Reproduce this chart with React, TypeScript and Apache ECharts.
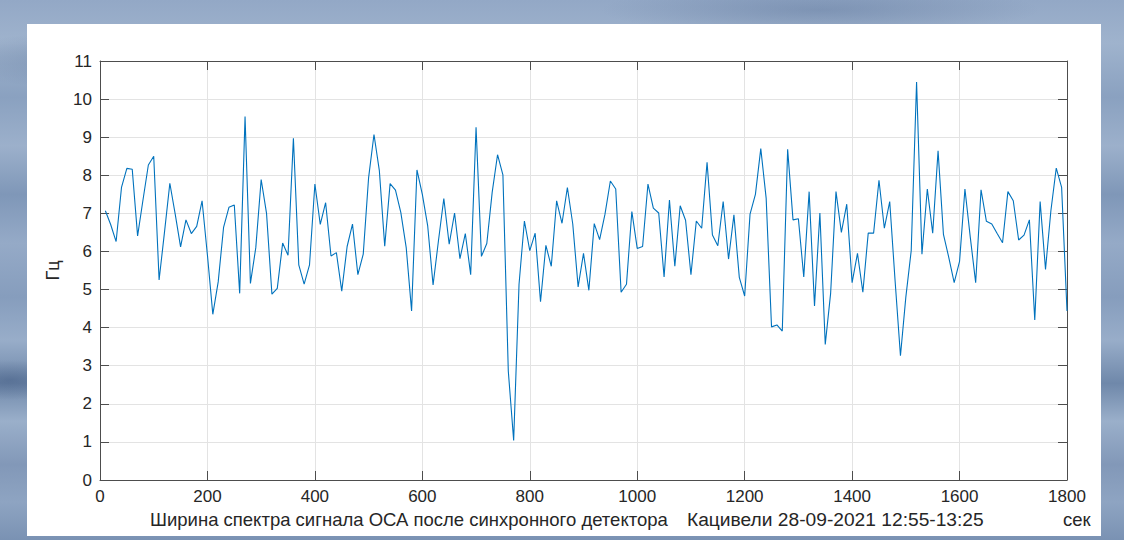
import React, { useEffect, useRef } from "react";
import * as echarts from "echarts";

const sampleStep = 10; // seconds between samples, first sample at 10 s
const widthHz: number[] = [
  7.07, 6.70, 6.26, 7.68, 8.18, 8.16, 6.41, 7.35, 8.27, 8.50,
  5.25, 6.50, 7.79, 6.98, 6.12, 6.83, 6.47, 6.66, 7.33, 5.90,
  4.35, 5.20, 6.63, 7.16, 7.22, 4.90, 9.54, 5.16, 6.10, 7.89,
  7.00, 4.88, 5.03, 6.22, 5.90, 8.97, 5.65, 5.14, 5.65, 7.77,
  6.71, 7.28, 5.88, 5.97, 4.96, 6.13, 6.72, 5.39, 5.93, 7.94,
  9.07, 8.12, 6.14, 7.78, 7.61, 7.02, 6.10, 4.44, 8.14, 7.50,
  6.67, 5.12, 6.28, 7.39, 6.19, 7.01, 5.81, 6.47, 5.39, 9.26,
  5.87, 6.21, 7.55, 8.54, 8.01, 2.86, 1.04, 5.14, 6.80, 6.02,
  6.48, 4.68, 6.16, 5.61, 7.33, 6.74, 7.68, 6.72, 5.07, 5.95,
  4.98, 6.73, 6.31, 6.98, 7.85, 7.64, 4.93, 5.14, 7.05, 6.08,
  6.13, 7.77, 7.14, 7.01, 5.33, 7.35, 5.61, 7.20, 6.82, 5.39,
  6.80, 6.61, 8.34, 6.43, 6.15, 7.31, 5.80, 6.96, 5.32, 4.83,
  6.98, 7.50, 8.70, 7.40, 4.02, 4.07, 3.91, 8.68, 6.83, 6.86,
  5.33, 7.57, 4.57, 7.01, 3.56, 4.90, 7.57, 6.50, 7.24, 5.18,
  5.95, 4.93, 6.48, 6.48, 7.87, 6.61, 7.31, 5.23, 3.26, 4.80,
  6.02, 10.45, 5.93, 7.64, 6.48, 8.64, 6.45, 5.84, 5.18, 5.74,
  7.64, 6.37, 5.18, 7.62, 6.79, 6.72, 6.47, 6.23, 7.57, 7.33,
  6.30, 6.43, 6.83, 4.20, 7.31, 5.53, 7.07, 8.19, 7.68, 4.44,
];
const seconds: number[] = widthHz.map((_, i) => (i + 1) * sampleStep);

const xMin = 0;
const xMax = 1800;
const xStep = 200;
const yMin = 0;
const yMax = 11;
const yStep = 1;

const yName = "Гц";
const captionText = "Ширина спектра сигнала ОСА после синхронного детектора";
const placeDateText = "Кацивели 28-09-2021 12:55-13:25";
const unitText = "сек";

const FONT = "'Liberation Sans', Arial, Helvetica, sans-serif";
const AXIS_COLOR = "#4d4d4d";
const TEXT_COLOR = "#262626";
const GRID_COLOR = "#e3e3e3";

export default function App() {
  const ref = useRef<HTMLDivElement>(null);

  useEffect(() => {
    if (!ref.current) return;
    const chart = echarts.init(ref.current, undefined, { renderer: "svg" });

    const baseX = {
      type: "value" as const,
      min: xMin,
      max: xMax,
      interval: xStep,
      axisLine: { show: true, onZero: false, lineStyle: { color: AXIS_COLOR, width: 1 } },
      axisTick: { show: true, inside: true, length: 9, lineStyle: { color: AXIS_COLOR } },
    };
    const baseY = {
      type: "value" as const,
      min: yMin,
      max: yMax,
      interval: yStep,
      axisLine: { show: true, onZero: false, lineStyle: { color: AXIS_COLOR, width: 1 } },
      axisTick: { show: true, inside: true, length: 9, lineStyle: { color: AXIS_COLOR } },
    };

    chart.setOption({
      animation: false,
      backgroundColor: "#ffffff",
      grid: { left: 73, right: 34, top: 37, bottom: 56, containLabel: false },
      xAxis: [
        {
          ...baseX,
          position: "bottom",
          axisLabel: {
            color: TEXT_COLOR,
            fontSize: 17,
            fontFamily: FONT,
            margin: 8,
            formatter: (v: number) => String(v),
          },
          splitLine: { show: true, lineStyle: { color: GRID_COLOR, width: 1 } },
        },
        {
          ...baseX,
          position: "top",
          axisLabel: { show: false },
          splitLine: { show: false },
        },
      ],
      yAxis: [
        {
          ...baseY,
          position: "left",
          name: yName,
          nameLocation: "middle",
          nameGap: 29,
          nameRotate: 90,
          nameTextStyle: { color: TEXT_COLOR, fontSize: 18, fontFamily: FONT },
          axisLabel: {
            color: TEXT_COLOR,
            fontSize: 17,
            fontFamily: FONT,
            margin: 8,
            formatter: (v: number) => String(v),
          },
          splitLine: { show: true, lineStyle: { color: GRID_COLOR, width: 1 } },
        },
        {
          ...baseY,
          position: "right",
          axisLabel: { show: false },
          splitLine: { show: false },
        },
      ],
      series: [
        {
          type: "line",
          xAxisIndex: 0,
          yAxisIndex: 0,
          data: seconds.map((t, i) => [t, widthHz[i]]),
          showSymbol: false,
          symbol: "none",
          lineStyle: { color: "#0072BD", width: 1.1 },
          z: 3,
        },
      ],
      graphic: [
        {
          type: "text",
          left: 123,
          top: 486,
          style: { text: captionText, fill: TEXT_COLOR, fontSize: 18.5, fontFamily: FONT },
        },
        {
          type: "text",
          left: 660,
          top: 486,
          style: { text: placeDateText, fill: TEXT_COLOR, fontSize: 19.2, fontFamily: FONT },
        },
        {
          type: "text",
          left: 1036,
          top: 486,
          style: { text: unitText, fill: TEXT_COLOR, fontSize: 18.5, fontFamily: FONT },
        },
      ],
    });

    return () => chart.dispose();
  }, []);

  const bg =
    "radial-gradient(ellipse 180px 30px at 120px 60px, rgba(70,95,135,0.35), transparent)," +
    "radial-gradient(ellipse 220px 25px at 820px 10px, rgba(70,95,135,0.3), transparent)," +
    "radial-gradient(ellipse 60px 20px at 10px 380px, rgba(60,85,125,0.45), transparent)," +
    "linear-gradient(180deg, #93a8c6 0%, #9fb3cd 8%, #8aa1c0 18%, #9cb0cb 27%, #7f97b8 36%, #95aac7 45%, #869dbd 55%, #98adc9 63%, #6f88aa 71%, #9aafca 78%, #8298b8 86%, #8ea4c2 93%, #7a92b3 100%)";

  return (
    <div
      style={{
        position: "fixed",
        left: 0,
        top: 0,
        width: 1124,
        height: 540,
        background: bg,
        overflow: "hidden",
      }}
    >
      <div
        ref={ref}
        style={{ position: "absolute", left: 27, top: 24, width: 1074, height: 512 }}
      />
    </div>
  );
}
